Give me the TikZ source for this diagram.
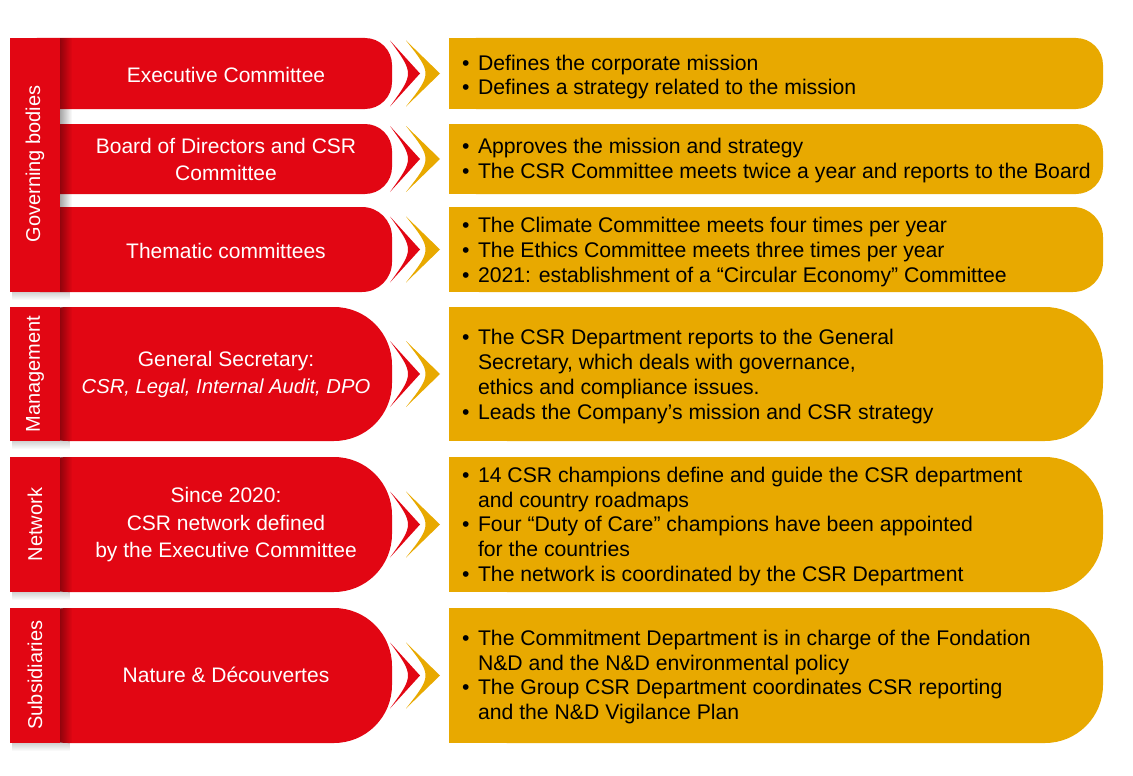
\documentclass[tikz,border=0pt]{standalone}
\usepackage{fontspec}
\setmainfont{Liberation Sans}
\usetikzlibrary{fadings}

\definecolor{csrred}{RGB}{226,6,19}
\definecolor{csryellow}{RGB}{232,169,0}

\tikzfading[name=faderight, left color=transparent!0, right color=transparent!100]
\tikzfading[name=fadedown, top color=transparent!0, bottom color=transparent!100]

\begin{document}
\begin{tikzpicture}[x=1pt, y=-1pt]
		\tikzset{redbox/.style={fill=csrred},
			yelbox/.style={fill=csryellow},
			bartext/.style={text=white, rotate=90, font=\fontsize{20}{24}\selectfont},
			redtext/.style={text=white, align=center, font=\fontsize{21}{27.5}\selectfont},
			bullets/.style={anchor=west, inner sep=0pt, font=\fontsize{21.2}{24.8}\selectfont},
			arrowpair/.pic={
				\fill[csrred] (0,-33) -- (30,0) -- (0,33) .. controls (24,0) .. (0,-33) -- cycle;
				\fill[csryellow] (16,-33) -- (50,0) -- (16,33) .. controls (42,0) .. (16,-33) -- cycle;
			}};

		\useasboundingbox (0,0) rectangle (1133,776);

		% red boxes
		\fill[redbox, rounded corners=27] (10,38) rectangle (392,109);
		\fill[redbox, rounded corners=27] (10,124) rectangle (392,194);
		\fill[redbox, rounded corners=30] (10,207) rectangle (392,292);
		\fill[redbox, rounded corners=58] (10,307) rectangle (392,441);
		\fill[redbox, rounded corners=58] (10,457) rectangle (392,592);
		\fill[redbox, rounded corners=58] (10,608) rectangle (392,743);

		% yellow boxes
		\fill[yelbox] (449,38) rectangle (800,109);
		\fill[yelbox, rounded corners=27] (449,38) rectangle (1103,109);
		\fill[yelbox] (449,124) rectangle (800,194);
		\fill[yelbox, rounded corners=27] (449,124) rectangle (1103,194);
		\fill[yelbox] (449,207) rectangle (800,292);
		\fill[yelbox, rounded corners=30] (449,207) rectangle (1103,292);
		\fill[yelbox] (449,307) rectangle (800,441);
		\fill[yelbox, rounded corners=58] (449,307) rectangle (1103,441);
		\fill[yelbox] (449,457) rectangle (800,592);
		\fill[yelbox, rounded corners=58] (449,457) rectangle (1103,592);
		\fill[yelbox] (449,608) rectangle (800,743);
		\fill[yelbox, rounded corners=58] (449,608) rectangle (1103,743);

		\foreach \cy in {73.5,159,249.5,374,524.5,675.5}
			\pic at (390,\cy) {arrowpair};

		% side bars
		\foreach \ya/\yb in {38/292,307/441,457/592,608/743} {
			\fill[black, opacity=.35, path fading=faderight] (60,\ya) rectangle (72,\yb);
			\fill[black, opacity=.18, path fading=fadedown] (12,\yb) rectangle (70,\yb+8);
			\fill[redbox] (10,\ya) rectangle (60,\yb);
		}

		\node[bartext] (gov) at (35,164) {Governing bodies};
		\node[bartext] (man) at (35,374) {Management};
		\node[bartext] (netw) at (35,524.5) {Network};
		\node[bartext] (sub) at (35,675) {Subsidiaries};

		\node[redtext] (exec) at (226,75) {Executive Committee};
		\node[redtext] (board) at (226,159.5) {Board of Directors and CSR\\Committee};
		\node[redtext] (thema) at (226,251) {Thematic committees};
		\node[redtext] (gensec) at (226,374.5) {General Secretary:\\\fontsize{20.2}{27.5}\selectfont\itshape CSR, Legal, Internal Audit, DPO};
		\node[redtext] (since) at (226,525) {Since 2020:\\CSR network defined\\by the Executive Committee};
		\node[redtext] (nd) at (226,675) {Nature \& Découvertes};

		\node[bullets] (mission) at (462,77.5) {\begin{tabular}{@{}l@{\hspace{8.4pt}}l@{}}
			\textbullet & Defines the corporate mission\\
			\textbullet & Defines a strategy related to the mission
		\end{tabular}};
		\node[bullets] (approve) at (462,161) {\begin{tabular}{@{}l@{\hspace{8.4pt}}l@{}}
			\textbullet & Approves the mission and strategy\\
			\textbullet & The CSR Committee meets twice a year and reports to the Board
		\end{tabular}};
		\node[bullets] (meets) at (462,252.5) {\begin{tabular}{@{}l@{\hspace{8.4pt}}l@{}}
			\textbullet & The Climate Committee meets four times per year\\
			\textbullet & The Ethics Committee meets three times per year\\
			\textbullet & 2021: establishment of a “Circular Economy” Committee
		\end{tabular}};
		\node[bullets] (reports) at (462,377) {\begin{tabular}{@{}l@{\hspace{8.4pt}}l@{}}
			\textbullet & The CSR Department reports to the General\\
			& Secretary, which deals with governance,\\
			& ethics and compliance issues.\\
			\textbullet & Leads the Company’s mission and CSR strategy
		\end{tabular}};
		\node[bullets] (champ) at (462,527) {\begin{tabular}{@{}l@{\hspace{8.4pt}}l@{}}
			\textbullet & 14 CSR champions define and guide the CSR department\\
			& and country roadmaps\\
			\textbullet & Four “Duty of Care” champions have been appointed\\
			& for the countries\\
			\textbullet & The network is coordinated by the CSR Department
		\end{tabular}};
		\node[bullets] (commit) at (462,677.5) {\begin{tabular}{@{}l@{\hspace{8.4pt}}l@{}}
			\textbullet & The Commitment Department is in charge of the Fondation\\
			& N\&D and the N\&D environmental policy\\
			\textbullet & The Group CSR Department coordinates CSR reporting\\
			& and the N\&D Vigilance Plan
		\end{tabular}};

	\end{tikzpicture}
\end{document}
